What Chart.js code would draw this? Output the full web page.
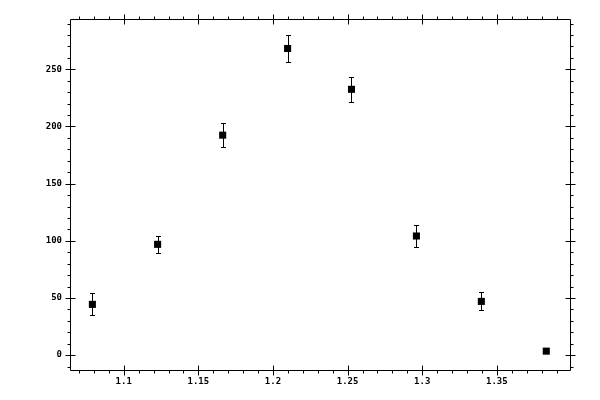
<!DOCTYPE html>
<html>
<head>
<meta charset="utf-8">
<script src="https://cdn.jsdelivr.net/npm/chart.js@4/dist/chart.umd.min.js"></script>
<style>
  html, body { margin: 0; padding: 0; background: #fff; }
  canvas { display: block; }
</style>
</head>
<body>
<canvas id="scan" width="600" height="400"></canvas>
<script>
const xValues = [1.079, 1.1227, 1.1663, 1.2098, 1.2526, 1.2961, 1.3396, 1.3831];
const yValues = [44.4, 96.9, 192.4, 268.2, 232.5, 104.2, 47.0, 3.5];
const yErrors = [9.6, 7.5, 10.5, 12.0, 11.0, 9.2, 7.9, 1.8];

// axis ticks
const xMajor = [1.1, 1.15, 1.2, 1.25, 1.3, 1.35];
const xLabels = ['1.1', '1.15', '1.2', '1.25', '1.3', '1.35'];
const xMinor = [1.07, 1.08, 1.09, 1.11, 1.12, 1.13, 1.14, 1.16, 1.17, 1.18, 1.19,
  1.21, 1.22, 1.23, 1.24, 1.26, 1.27, 1.28, 1.29, 1.31, 1.32, 1.33, 1.34, 1.36, 1.37, 1.38, 1.39];
const yMajor = [0, 50, 100, 150, 200, 250];
const yLabels = ['0', '50', '100', '150', '200', '250'];
const yMinor = [-10, 10, 20, 30, 40, 60, 70, 80, 90, 110, 120, 130, 140, 160, 170, 180, 190,
  210, 220, 230, 240, 260, 270, 280, 290];

const points = xValues.map((x, i) => ({ x: x, y: yValues[i] }));

// frame, ticks on all four sides, and error bars
const framePlugin = {
  id: 'frame',
  afterDatasetsDraw(chart) {
    const c = chart.ctx;
    const a = chart.chartArea;
    const xs = chart.scales.x, ys = chart.scales.y;
    const L = Math.round(a.left) + 0.5, R = Math.round(a.right) + 0.5;
    const T = Math.round(a.top) + 0.5, B = Math.round(a.bottom) + 0.5;
    c.save();
    c.strokeStyle = '#000';
    c.lineWidth = 1;
    c.beginPath();
    c.rect(L, T, R - L, B - T);
    xMajor.forEach(v => {
      const p = Math.round(xs.getPixelForValue(v)) + 0.5;
      c.moveTo(p, B - 5); c.lineTo(p, B + 5);
      c.moveTo(p, T - 5); c.lineTo(p, T + 5);
    });
    xMinor.forEach(v => {
      const p = Math.round(xs.getPixelForValue(v)) + 0.5;
      c.moveTo(p, B); c.lineTo(p, B + 3);
      c.moveTo(p, T); c.lineTo(p, T - 3);
    });
    yMajor.forEach(v => {
      const p = Math.round(ys.getPixelForValue(v)) + 0.5;
      c.moveTo(L - 5, p); c.lineTo(L + 5, p);
      c.moveTo(R - 5, p); c.lineTo(R + 5, p);
    });
    yMinor.forEach(v => {
      const p = Math.round(ys.getPixelForValue(v)) + 0.5;
      c.moveTo(L, p); c.lineTo(L - 3, p);
      c.moveTo(R, p); c.lineTo(R + 3, p);
    });
    c.stroke();

    // error bars
    c.beginPath();
    xValues.forEach((x, i) => {
      const px = Math.round(xs.getPixelForValue(x)) + 0.5;
      const top = Math.round(ys.getPixelForValue(yValues[i] + yErrors[i])) + 0.5;
      const bot = Math.round(ys.getPixelForValue(yValues[i] - yErrors[i])) + 0.5;
      c.moveTo(px, top); c.lineTo(px, bot);
      c.moveTo(px - 2.5, top); c.lineTo(px + 2.5, top);
      c.moveTo(px - 2.5, bot); c.lineTo(px + 2.5, bot);
    });
    c.stroke();
    c.restore();
  }
};

const tickFont = { family: 'DejaVu Sans Mono', size: 9, weight: 'bold' };

new Chart(document.getElementById('scan').getContext('2d'), {
  type: 'scatter',
  data: {
    datasets: [{
      data: points,
      pointStyle: 'rect',
      pointRadius: 5,
      pointBorderWidth: 0,
      backgroundColor: '#000',
      borderColor: '#000'
    }]
  },
  options: {
    responsive: false,
    animation: false,
    layout: { padding: { top: 19, right: 30, left: 0, bottom: 0 } },
    plugins: { legend: { display: false }, tooltip: { enabled: false } },
    scales: {
      x: {
        type: 'linear',
        min: 1.064,
        max: 1.399,
        grid: { display: false, drawTicks: false },
        border: { display: false },
        afterBuildTicks: s => { s.ticks = xMajor.map(v => ({ value: v })); },
        afterFit: s => { s.height = 30; },
        ticks: {
          font: tickFont,
          color: '#000',
          padding: 6,
          maxRotation: 0,
          autoSkip: false,
          callback: (v, i) => xLabels[i]
        }
      },
      y: {
        type: 'linear',
        min: -13,
        max: 294,
        grid: { display: false, drawTicks: false },
        border: { display: false },
        afterBuildTicks: s => { s.ticks = yMajor.map(v => ({ value: v })); },
        afterFit: s => { s.width = 70; },
        ticks: {
          font: tickFont,
          color: '#000',
          padding: 8,
          autoSkip: false,
          callback: (v, i) => yLabels[i]
        }
      }
    }
  },
  plugins: [framePlugin]
});
</script>
</body>
</html>
